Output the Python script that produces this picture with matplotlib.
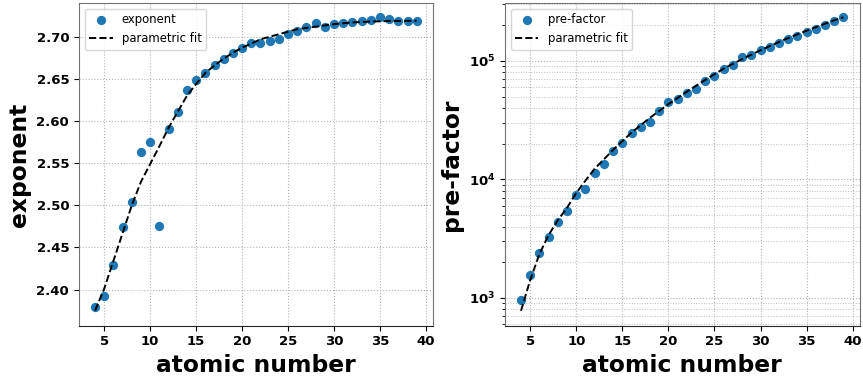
import numpy as np
import matplotlib
matplotlib.use('Agg')
import matplotlib.pyplot as plt
from matplotlib.ticker import FuncFormatter, LogLocator

# atomic numbers of the points
z = np.arange(4, 40)

exponent = [2.379, 2.392, 2.429, 2.474, 2.504, 2.563, 2.575, 2.475, 2.590,
            2.611, 2.637, 2.649, 2.657, 2.666, 2.674, 2.681, 2.687, 2.692,
            2.693, 2.695, 2.697, 2.703, 2.707, 2.7115, 2.716, 2.712, 2.7147,
            2.7166, 2.7178, 2.7187, 2.7195, 2.723, 2.7207, 2.719, 2.7187, 2.7187]

prefactor = [950, 1546, 2385, 3250, 4330, 5360, 7380, 8300, 11350, 13500,
             17200, 20200, 24500, 27900, 30400, 38100, 44800, 48100, 53400,
             58400, 67400, 74300, 85600, 93000, 107500, 111700, 123800,
             130600, 141000, 153400, 161600, 176600, 187400, 202500, 216200,
             233700]

# parametric fit curves
fit_z = [4, 5, 6, 7, 8, 9, 10, 11, 12, 13, 14, 15, 16, 17, 18, 19, 20,
         22, 24, 26, 28, 30, 32, 34, 36, 39]
fit_exp = [2.375, 2.401, 2.434, 2.467, 2.500, 2.528, 2.549, 2.570, 2.592,
           2.611, 2.630, 2.644, 2.657, 2.666, 2.674, 2.681, 2.687,
           2.697, 2.703, 2.709, 2.712, 2.715, 2.717, 2.718, 2.7187, 2.719]

fit_z2 = [4, 5, 6, 7, 8, 9, 10, 11, 12, 14, 16, 18, 20, 22, 24, 26, 28,
          30, 32, 34, 36, 38, 39]
fit_logpre = [2.89, 3.15, 3.37, 3.53, 3.655, 3.76, 3.885, 3.99, 4.09, 4.249,
              4.395, 4.52, 4.635, 4.74, 4.84, 4.935, 5.015, 5.09, 5.16,
              5.225, 5.285, 5.343, 5.369]
fit_pre = [10 ** v for v in fit_logpre]

fig = plt.figure(figsize=(8.63, 3.81), dpi=100)
ax1 = fig.add_axes([0.0915, 0.145, 0.41, 0.847])
ax2 = fig.add_axes([0.585, 0.145, 0.411, 0.847])

blue = '#1f77b4'

ax1.scatter(z, exponent, s=32, color=blue, label='exponent', zorder=3)
ax1.plot(fit_z, fit_exp, 'k--', lw=1.4, label='parametric fit', zorder=4)
ax1.set_xlim(2.25, 40.75)
ax1.set_ylim(2.357, 2.740)
ax1.set_xticks([5, 10, 15, 20, 25, 30, 35, 40])
ax1.set_yticks([2.40, 2.45, 2.50, 2.55, 2.60, 2.65, 2.70])
ax1.yaxis.set_major_formatter(FuncFormatter(lambda v, p: '%.2f' % v))
ax1.set_xlabel('atomic number', fontsize=16.8, fontweight='bold')
ax1.set_ylabel('exponent', fontsize=16.8, fontweight='bold')
ax1.grid(True, ls=':', color='0.7', lw=0.8)

ax2.scatter(z, prefactor, s=32, color=blue, label='pre-factor', zorder=3)
ax2.plot(fit_z2, fit_pre, 'k--', lw=1.4, label='parametric fit', zorder=4)
ax2.set_yscale('log')
ax2.set_xlim(2.25, 40.75)
ax2.set_ylim(581, 308000)
ax2.set_xticks([5, 10, 15, 20, 25, 30, 35, 40])
ax2.yaxis.set_major_locator(LogLocator(base=10))
ax2.yaxis.set_minor_locator(LogLocator(base=10, subs=np.arange(2, 10)))
ax2.yaxis.set_major_formatter(FuncFormatter(lambda v, p: r'$\mathbf{10^{%d}}$' % round(np.log10(v))))
ax2.set_xlabel('atomic number', fontsize=16.8, fontweight='bold')
ax2.set_ylabel('pre-factor', fontsize=16.8, fontweight='bold')
ax2.grid(True, which='major', ls=':', color='0.7', lw=0.8)
ax2.grid(True, which='minor', axis='y', ls=':', color='0.75', lw=0.7)

for ax in (ax1, ax2):
    ax.tick_params(labelsize=9.5)
    for lab in ax.get_xticklabels() + ax.get_yticklabels():
        lab.set_fontweight('bold')
    for side in ('left', 'top', 'right'):
        ax.spines[side].set_color('0.45')
    ax.spines['bottom'].set_color('0.15')
    ax.legend(loc='upper left', fontsize='small')

fig.savefig('out.png', dpi=100)
